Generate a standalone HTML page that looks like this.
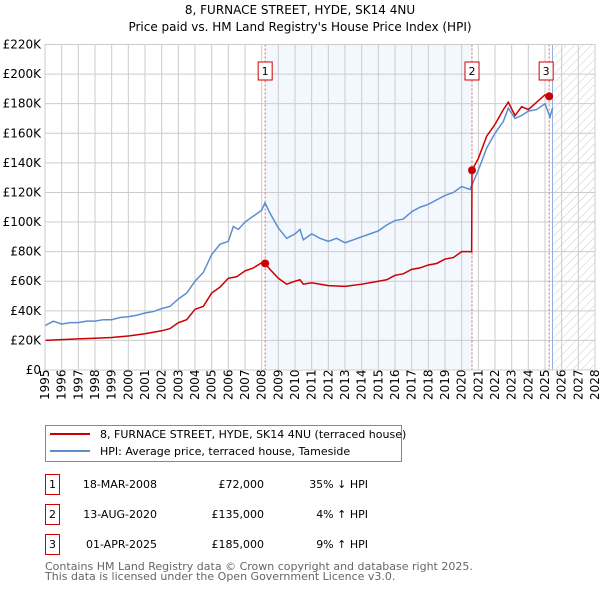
<!DOCTYPE html>
<html><head><meta charset="utf-8"><style>
body{margin:0;background:#fff;width:600px;height:590px;overflow:hidden;font-family:"DejaVu Sans","Liberation Sans",sans-serif}
svg text{font-family:"DejaVu Sans","Liberation Sans",sans-serif}
</style></head><body>
<svg id="c" width="600" height="590" xmlns="http://www.w3.org/2000/svg">
<defs><pattern id="hatch" width="6" height="6" patternUnits="userSpaceOnUse" patternTransform="rotate(45)"><line x1="0" y1="0" x2="0" y2="6" stroke="#ccc" stroke-width="1"/></pattern></defs>
<text x="300" y="14" text-anchor="middle" font-size="12">8, FURNACE STREET, HYDE, SK14 4NU</text>
<text x="300" y="31" text-anchor="middle" font-size="12">Price paid vs. HM Land Registry's House Price Index (HPI)</text>
<g id="plot"></g>
<g>
<rect x="45.5" y="425.5" width="356" height="36" fill="#fff" stroke="#888"/>
<line x1="50" y1="434" x2="90" y2="434" stroke="#cc0000" stroke-width="2"/>
<text x="100" y="438" font-size="11">8, FURNACE STREET, HYDE, SK14 4NU (terraced house)</text>
<line x1="50" y1="451" x2="90" y2="451" stroke="#5b8ed1" stroke-width="2"/>
<text x="100" y="455" font-size="11">HPI: Average price, terraced house, Tameside</text>
</g>
<g id="tbl" font-size="11"></g>
<text x="45" y="570" font-size="11" fill="#666">Contains HM Land Registry data © Crown copyright and database right 2025.</text>
<text x="45" y="580" font-size="11" fill="#666">This data is licensed under the Open Government Licence v3.0.</text>
</svg>
<script>
const hpiYears=[1995,1995.5,1996,1996.5,1997,1997.5,1998,1998.5,1999,1999.5,2000,2000.5,2001,2001.5,2002,2002.5,2003,2003.5,2004,2004.5,2005,2005.5,2006,2006.3,2006.6,2007,2007.5,2008,2008.2,2008.5,2009,2009.5,2010,2010.3,2010.5,2011,2011.5,2012,2012.5,2013,2013.5,2014,2014.5,2015,2015.5,2016,2016.5,2017,2017.5,2018,2018.5,2019,2019.5,2020,2020.5,2021,2021.5,2022,2022.5,2022.8,2023.2,2023.6,2024,2024.5,2025,2025.3,2025.45];
const hpiValues=[30,33,31,32,32,33,33,34,34,35.5,36,37,38.5,39.5,41.5,43,48,52,60,66,78,85,87,97,95,100,104,108,113,106,96,89,92,95,88,92,89,87,89,86,88,90,92,94,98,101,102,107,110,112,115,118,120,124,122,135,150,160,168,177,170,172,175,176,180,171,177];
const priceYears=[1995,1996,1997,1998,1999,2000,2001,2002,2002.5,2003,2003.5,2004,2004.5,2005,2005.5,2006,2006.5,2007,2007.5,2008,2008.21,2008.5,2009,2009.5,2010,2010.3,2010.5,2011,2012,2013,2014,2015,2015.5,2016,2016.5,2017,2017.5,2018,2018.5,2019,2019.5,2020,2020.6,2020.62,2021,2021.5,2022,2022.5,2022.8,2023.2,2023.6,2024,2024.5,2025,2025.25,2025.4];
const priceValues=[20,20.5,21,21.5,22,23,24.5,26.5,28,32,34,41,43,52,56,62,63,67,69,72.5,72,68,62,58,60,61,58,59,57,56.5,58,60,61,64,65,68,69,71,72,75,76,80,80,135,143,158,166,176,181,172,178,176,181,186,185,187];
const saleYears=[2008.21,2020.62,2025.25];
const saleValues=[72,135,185];
const saleLabels=["1","2","3"];
const saleDates=["18-MAR-2008","13-AUG-2020","01-APR-2025"];
const salePrices=["£72,000","£135,000","£185,000"];
const saleHpi=["35% ↓ HPI","4% ↑ HPI","9% ↑ HPI"];
const yTicks=[0,20,40,60,80,100,120,140,160,180,200,220];
const xTicks=[];for(let y=1995;y<=2028;y++)xTicks.push(y);

const NS="http://www.w3.org/2000/svg";
const X0=45,X1=595,Y0=370,Y1=44.5;
const xs=v=>X0+(v-1995)/(2028-1995)*(X1-X0);
const ys=v=>Y0-v/220*(Y0-Y1);
const g=document.getElementById('plot');
function mk(t,a,p){const e=document.createElementNS(NS,t);for(const k in a)e.setAttribute(k,a[k]);(p||g).appendChild(e);return e;}
let e;
e=mk('rect',{x:xs(saleYears[0]),y:Y1,width:xs(saleYears[1])-xs(saleYears[0]),height:Y0-Y1,fill:'#eef3fd',opacity:0.7});


e=mk('rect',{x:xs(2025.5),y:Y1,width:X1-xs(2025.5),height:Y0-Y1,fill:'url(#hatch)'});


yTicks.forEach(t=>{
 e=mk('line',{x1:X0,x2:X1,y1:ys(t),y2:ys(t),stroke:'#ccc'});
 
 
 e=mk('text',{x:X0-4,y:ys(t)+4,'text-anchor':'end','font-size':12});
 e.textContent=t===0?'£0':'£'+t+'K';
 
 
});
xTicks.forEach(t=>{
 e=mk('line',{x1:xs(t),x2:xs(t),y1:Y1,y2:Y0,stroke:'#ccc'});
 
 
 e=mk('text',{x:0,y:0,'font-size':12,transform:`translate(${xs(t)+4},${Y0+30}) rotate(-90)`});
 e.textContent=t;
 
 
});
e=mk('line',{x1:xs(2025.45),x2:xs(2025.45),y1:Y1,y2:Y0,stroke:'#8fb0e0','stroke-width':1});


saleYears.forEach((s,i)=>{
 e=mk('line',{x1:xs(s),x2:xs(s),y1:Y1,y2:Y0,stroke:'#e06060','stroke-dasharray':'2,2'});
 
 
 const bx=xs(s)-(i==2?3:0)-7;
 e=mk('rect',{x:bx,y:62,width:14,height:18,fill:'#fff',stroke:'#cc0000'});
 
 
 e=mk('text',{x:bx+7,y:75,'text-anchor':'middle','font-size':11});
 e.textContent=saleLabels[i];
 
 
});
e=mk('polyline',{points:hpiYears.map((y,i)=>xs(y)+','+ys(hpiValues[i])).join(' '),fill:'none',stroke:'#5b8ed1','stroke-width':1.5});


e=mk('polyline',{points:priceYears.map((y,i)=>xs(y)+','+ys(priceValues[i])).join(' '),fill:'none',stroke:'#cc0000','stroke-width':1.5});


saleYears.forEach((s,i)=>{
 e=mk('circle',{cx:xs(s),cy:ys(saleValues[i]),r:4,fill:'#cc0000'});
 
 
});
e=mk('rect',{x:X0,y:Y1,width:X1-X0,height:Y0-Y1,fill:'none',stroke:'#ccc'});


const tb=document.getElementById('tbl');
saleYears.forEach((s,i)=>{
 const cy=483+i*30;
 e=mk('rect',{x:45.5,y:cy-8.5,width:14,height:20,fill:'#fff',stroke:'#cc0000'},tb);
 
 
 e=mk('text',{x:52.5,y:cy+5,'text-anchor':'middle'},tb);e.textContent=saleLabels[i];
 
 
 e=mk('text',{x:157,y:cy+5,'text-anchor':'end'},tb);e.textContent=saleDates[i];
 
 
 e=mk('text',{x:264,y:cy+5,'text-anchor':'end'},tb);e.textContent=salePrices[i];
 
 
 e=mk('text',{x:368,y:cy+5,'text-anchor':'end'},tb);e.textContent=saleHpi[i];
 
 
});
</script>
</body></html>
